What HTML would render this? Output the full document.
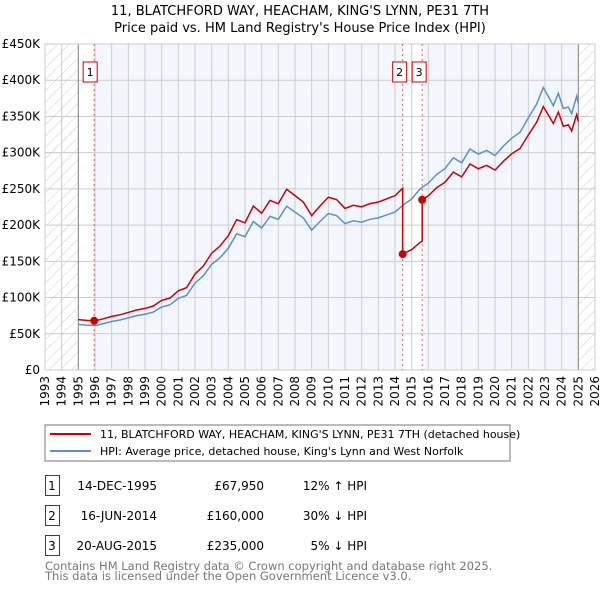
<!DOCTYPE html>
<html><head><meta charset="utf-8"><style>
body{margin:0;background:#fff;width:600px;height:590px;overflow:hidden;font-family:"DejaVu Sans","Liberation Sans",sans-serif}
svg text{font-family:"DejaVu Sans","Liberation Sans",sans-serif}
</style></head><body>
<svg id="c" width="600" height="590" xmlns="http://www.w3.org/2000/svg">
<defs><pattern id="h" width="8" height="8" patternUnits="userSpaceOnUse" patternTransform="rotate(45)"><line x1="0" y1="0" x2="0" y2="8" stroke="#ccc" stroke-width="1"/></pattern></defs>
<text x="300" y="15" text-anchor="middle" font-size="13">11, BLATCHFORD WAY, HEACHAM, KING'S LYNN, PE31 7TH</text>
<text x="300" y="32" text-anchor="middle" font-size="13">Price paid vs. HM Land Registry's House Price Index (HPI)</text>
<g id="plot"></g>
<rect x="45" y="425" width="465" height="36" fill="#fff" stroke="#777"/>
<line x1="50" y1="434" x2="91" y2="434" stroke="#cc0000" stroke-width="2"/>
<text x="100" y="438" font-size="11">11, BLATCHFORD WAY, HEACHAM, KING'S LYNN, PE31 7TH (detached house)</text>
<line x1="50" y1="451" x2="91" y2="451" stroke="#5b8fd0" stroke-width="2"/>
<text x="100" y="455" font-size="11">HPI: Average price, detached house, King's Lynn and West Norfolk</text>
<g font-size="12">
<rect x="45.5" y="475.5" width="14" height="20" fill="none" stroke="#cc0000"/><text x="52" y="490" text-anchor="middle">1</text>
<text x="157" y="490" text-anchor="end">14-DEC-1995</text><text x="264" y="490" text-anchor="end">£67,950</text><text x="367" y="490" text-anchor="end">12% ↑ HPI</text>
<rect x="45.5" y="505.5" width="14" height="20" fill="none" stroke="#cc0000"/><text x="52" y="520" text-anchor="middle">2</text>
<text x="157" y="520" text-anchor="end">16-JUN-2014</text><text x="264" y="520" text-anchor="end">£160,000</text><text x="367" y="520" text-anchor="end">30% ↓ HPI</text>
<rect x="45.5" y="535.5" width="14" height="20" fill="none" stroke="#cc0000"/><text x="52" y="550" text-anchor="middle">3</text>
<text x="157" y="550" text-anchor="end">20-AUG-2015</text><text x="264" y="550" text-anchor="end">£235,000</text><text x="367" y="550" text-anchor="end">5% ↓ HPI</text>
</g>
<text x="45" y="570" font-size="11.5" fill="#777">Contains HM Land Registry data © Crown copyright and database right 2025.</text>
<text x="45" y="580" font-size="11.5" fill="#777">This data is licensed under the Open Government Licence v3.0.</text>
</svg>
<script>
const hpiYears=[1995,1995.5,1996,1996.5,1997,1997.5,1998,1998.5,1999,1999.5,2000,2000.5,2001,2001.5,2002,2002.5,2003,2003.5,2004,2004.5,2005,2005.5,2006,2006.5,2007,2007.5,2008,2008.5,2009,2009.5,2010,2010.5,2011,2011.5,2012,2012.5,2013,2013.5,2014,2014.5,2015,2015.5,2016,2016.5,2017,2017.5,2018,2018.5,2019,2019.5,2020,2020.5,2021,2021.5,2022,2022.5,2022.9,2023.5,2023.8,2024.1,2024.4,2024.6,2024.9,2025];
const hpiValues=[63000,62000,61500,64000,67000,69000,72000,75000,77000,80000,87000,90000,99000,103000,120000,130000,146000,155000,168000,188000,184000,205000,196000,212000,208000,226000,218000,210000,193000,205000,216000,213000,202000,206000,204000,208000,210000,214000,218000,228000,236000,250000,258000,270000,278000,293000,286000,305000,298000,303000,296000,309000,320000,328000,348000,367000,390000,365000,382000,361000,363000,354000,378000,368000];
const saleDates=[1995.95,2014.46,2015.63];
const salePrices=[67950,160000,235000];
const yTicks=[0,50000,100000,150000,200000,250000,300000,350000,400000,450000];
const yLabels=["£0","£50K","£100K","£150K","£200K","£250K","£300K","£350K","£400K","£450K"];
const xTicks=[1993,1994,1995,1996,1997,1998,1999,2000,2001,2002,2003,2004,2005,2006,2007,2008,2009,2010,2011,2012,2013,2014,2015,2016,2017,2018,2019,2020,2021,2022,2023,2024,2025,2026];

const NS="http://www.w3.org/2000/svg";
const L=45,R=595,T=44,B=370;
const X=y=>L+(y-1993)/(2026-1993)*(R-L);
const Y=v=>B-v/450000*(B-T);
const g=document.getElementById('plot');
function mk(tag,at){const e=document.createElementNS(NS,tag);for(const k in at)e.setAttribute(k,at[k]);g.appendChild(e);return e;}
function hpiAt(t){for(let i=0;i<hpiYears.length-1;i++){if(t<=hpiYears[i+1]){const f=(t-hpiYears[i])/(hpiYears[i+1]-hpiYears[i]);return hpiValues[i]+f*(hpiValues[i+1]-hpiValues[i]);}}return hpiValues[hpiValues.length-1];}

let e=mk('rect',{x:L,y:T,width:R-L,height:B-T,fill:'#fff'});

e=mk('rect',{x:X(saleDates[0]),y:T,width:X(saleDates[1])-X(saleDates[0]),height:B-T,fill:'#f3f6fd'});

e=mk('rect',{x:X(saleDates[2]),y:T,width:X(2025)-X(saleDates[2]),height:B-T,fill:'#f3f6fd'});

e=mk('rect',{x:L,y:T,width:X(1995)-L,height:B-T,fill:'url(#h)'});

e=mk('rect',{x:X(2025),y:T,width:R-X(2025),height:B-T,fill:'url(#h)'});


yTicks.forEach((v,i)=>{
 let l=mk('line',{x1:L,x2:R,y1:Y(v),y2:Y(v),stroke:'#ccc'});
 
 let t=mk('text',{x:L-5,y:Y(v)+4,'text-anchor':'end','font-size':'12'});t.textContent=yLabels[i];
 
});
xTicks.forEach(yr=>{
 let l=mk('line',{x1:X(yr),x2:X(yr),y1:T,y2:B,stroke:'#ccc'});
 
 let t=mk('text',{transform:`translate(${X(yr)+4},${B+6}) rotate(-90)`,'text-anchor':'end','font-size':'12'});t.textContent=yr;
 
});
[1995,2025].forEach(yr=>{let l=mk('line',{x1:X(yr),x2:X(yr),y1:T,y2:B,stroke:'#888'});
 });
e=mk('rect',{x:L,y:T,width:R-L,height:B-T,fill:'none',stroke:'#ccc'});


saleDates.forEach((d,i)=>{
 let l=mk('line',{x1:X(d),x2:X(d),y1:T,y2:B,stroke:'#e06060','stroke-dasharray':'2,3'});
 
});

let pts=hpiYears.map((t,i)=>X(t)+','+Y(hpiValues[i])).join(' ');
e=mk('polyline',{points:pts,fill:'none',stroke:'#5b8fd0','stroke-width':1.5});


let rp=[];
function seg(t0,t1,ratio){rp.push([t0,hpiAt(t0)*ratio]);hpiYears.forEach(t=>{if(t>t0&&t<t1)rp.push([t,hpiAt(t)*ratio]);});rp.push([t1,hpiAt(t1)*ratio]);}
const r0=salePrices[0]/hpiAt(saleDates[0]);
seg(1995,saleDates[1],r0);
const r1=salePrices[1]/hpiAt(saleDates[1]);
seg(saleDates[1],saleDates[2],r1);
const r2=salePrices[2]/hpiAt(saleDates[2]);
seg(saleDates[2],2025,r2);
e=mk('polyline',{points:rp.map(p=>X(p[0])+','+Y(p[1])).join(' '),fill:'none',stroke:'#cc0000','stroke-width':1.5});


const boxOffsets=[-4,-3,-3];
saleDates.forEach((d,i)=>{
 let c=mk('circle',{cx:X(d),cy:Y(salePrices[i]),r:4,fill:'#cc0000'});
 
 const bx=X(d)+boxOffsets[i];
 let r=mk('rect',{x:bx-7,y:62,width:14,height:20,fill:'#fff',stroke:'#cc0000'});
 
 let t=mk('text',{x:bx,y:76,'text-anchor':'middle','font-size':'11'});t.textContent=i+1;
 
});
</script>
</body></html>
